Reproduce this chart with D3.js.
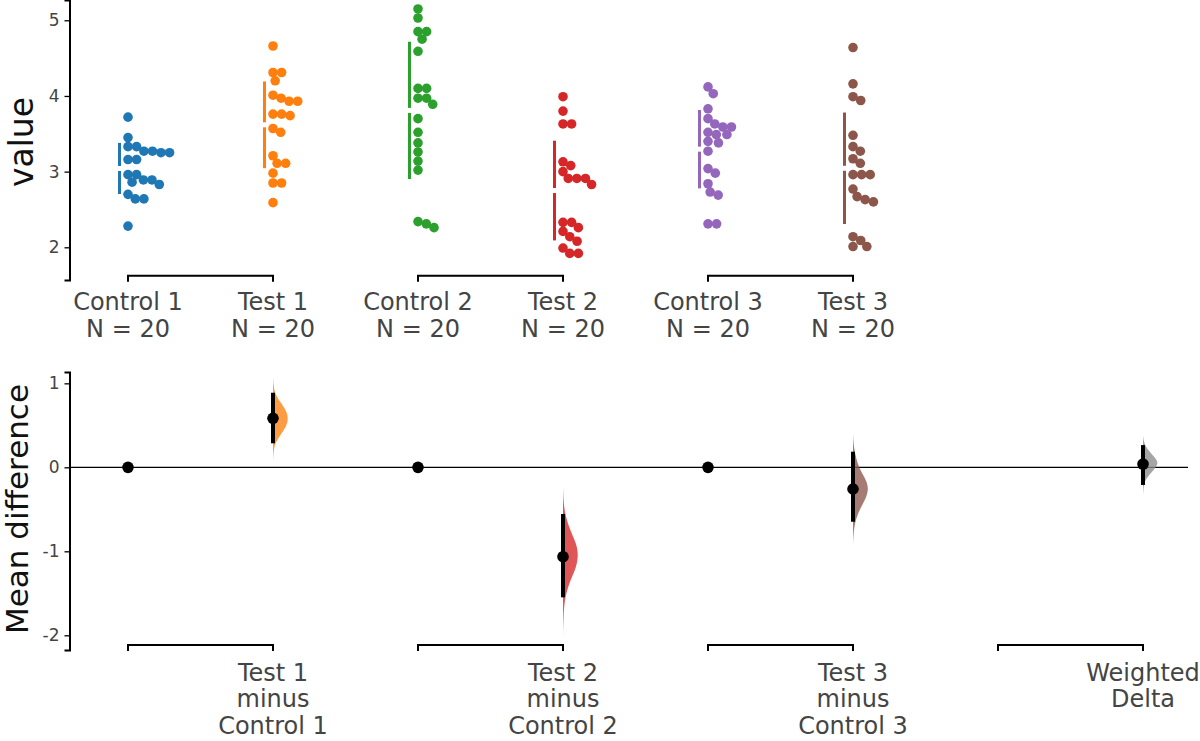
<!DOCTYPE html>
<html>
<head>
<meta charset="utf-8">
<script src="https://cdn.jsdelivr.net/npm/d3@7"></script>
<style>
  body { margin: 0; background: #fff; }
  text { font-family: "DejaVu Sans", sans-serif; }
</style>
</head>
<body>
<div id="main"></div>
<script>
// groups shown in the top (raw data) panel
const groups = ["Control 1", "Test 1", "Control 2", "Test 2", "Control 3", "Test 3"];
const groupColors = ["#1f77b4", "#ff7f0e", "#2ca02c", "#d62728", "#9467bd", "#8c564b"];

const control1 = [3.72, 3.45, 3.33, 3.33, 3.27, 3.27, 3.25, 3.25, 3.16, 3.16, 2.96, 2.96, 2.89, 2.89, 2.86, 2.83, 2.70, 2.64, 2.64, 2.28];
const test1    = [4.66, 4.31, 4.31, 4.20, 4.01, 3.97, 3.93, 3.93, 3.76, 3.76, 3.74, 3.57, 3.52, 3.21, 3.11, 3.11, 2.98, 2.85, 2.85, 2.59];
const control2 = [5.15, 5.03, 4.85, 4.85, 4.75, 4.59, 4.10, 4.10, 3.97, 3.97, 3.89, 3.70, 3.52, 3.38, 3.26, 3.14, 3.02, 2.34, 2.31, 2.26];
const test2    = [3.99, 3.80, 3.63, 3.63, 3.13, 3.08, 3.00, 2.91, 2.91, 2.91, 2.83, 2.33, 2.33, 2.26, 2.21, 2.14, 2.08, 1.99, 1.92, 1.92];
const control3 = [4.12, 4.03, 3.83, 3.70, 3.63, 3.59, 3.59, 3.52, 3.49, 3.49, 3.40, 3.38, 3.27, 3.04, 2.98, 2.84, 2.73, 2.69, 2.31, 2.31];
const test3    = [4.64, 4.16, 3.99, 3.94, 3.48, 3.33, 3.27, 3.17, 3.11, 2.96, 2.96, 2.96, 2.77, 2.67, 2.63, 2.60, 2.14, 2.09, 2.01, 2.01];
const groupValues = [control1, test1, control2, test2, control3, test3];

const topTicks = [2, 3, 4, 5];
const bottomTicks = [-2, -1, 0, 1];

// effect sizes (mean differences) with 95% CI
const deltaLabels = [["Test 1", "minus", "Control 1"], ["Test 2", "minus", "Control 2"], ["Test 3", "minus", "Control 3"], ["Weighted", "Delta"]];
const deltaMeans  = [0.583, -1.064, -0.258, 0.039];
const deltaCiLow  = [0.286, -1.548, -0.648, -0.21];
const deltaCiHigh = [0.888, -0.556, 0.186, 0.265];
const deltaColors = ["#ff7f0e", "#d62728", "#8c564b", "#8c8c8c"];

// bootstrap density outlines: [mean difference, relative width]
const densityT1 = [[1.08, 0], [0.98, 0.03], [0.88, 0.12], [0.78, 0.45], [0.68, 0.85], [0.58, 1], [0.48, 0.85], [0.38, 0.45], [0.28, 0.12], [0.18, 0.03], [0.07, 0]];
const densityT2 = [[-0.23, 0], [-0.40, 0.03], [-0.55, 0.12], [-0.75, 0.45], [-0.90, 0.85], [-1.04, 1], [-1.20, 0.85], [-1.35, 0.45], [-1.55, 0.12], [-1.75, 0.03], [-2.02, 0]];
const densityT3 = [[0.40, 0], [0.25, 0.04], [0.10, 0.2], [-0.05, 0.5], [-0.15, 0.85], [-0.25, 1], [-0.35, 0.88], [-0.48, 0.5], [-0.60, 0.2], [-0.75, 0.04], [-0.925, 0]];
const densityWd = [[0.38, 0], [0.30, 0.05], [0.22, 0.25], [0.14, 0.65], [0.067, 1], [0.0, 0.85], [-0.07, 0.5], [-0.15, 0.15], [-0.22, 0.04], [-0.33, 0]];
const densities = [densityT1, densityT2, densityT3, densityWd];

const width = 1200, height = 741;
const axisX = 69.5;

const svg = d3.select("#main").append("svg")
  .attr("width", width).attr("height", height);

// slot index -> x position (8 slots, shared by both panels)
const x = d3.scaleLinear().domain([0, 7]).range([128, 1143]);

const yTop = d3.scaleLinear().domain([1.568, 5.268]).range([280, 0]);
const yBot = d3.scaleLinear().domain([-2.175, 1.135]).range([650, 372]);

function drawAxis(scale, ticks) {
  const g = svg.append("g")
    .attr("transform", `translate(${axisX},0)`)
    .call(d3.axisLeft(scale).tickValues(ticks).tickSizeOuter(0).tickSize(5).tickPadding(5)
      .tickFormat(d => d < 0 ? "-" + Math.abs(d) : d));
  g.attr("font-size", 17).attr("font-family", "DejaVu Sans");
  g.select(".domain").attr("stroke", "#000").attr("stroke-width", 2);
  g.selectAll(".tick line").attr("stroke", "#000").attr("stroke-width", 1.3);
  g.selectAll(".tick text").attr("fill", "#444").style("font-size", "17px");
}
drawAxis(yTop, topTicks);
drawAxis(yBot, bottomTicks);

// axis titles
svg.append("text")
  .attr("transform", `translate(33,142) rotate(-90)`)
  .attr("text-anchor", "middle").attr("fill", "#111")
  .style("font-size", "33px").text("value");
svg.append("text")
  .attr("transform", `translate(28,509) rotate(-90)`)
  .attr("text-anchor", "middle").attr("fill", "#111")
  .style("font-size", "31px").text("Mean difference");

// one-sided swarm: each point goes to the smallest offset >= 0 that keeps
// it at least `sep` px from the points already placed
const r = 4.8;
const sep = 8.6;
function swarm(values, yScale) {
  const placed = [];
  const pts = values.map(v => ({ v, y: yScale(v) })).sort((a, b) => a.y - b.y);
  pts.forEach(p => {
    const near = placed.filter(q => Math.abs(q.y - p.y) < sep);
    const cands = [0];
    near.forEach(q => {
      const dx = Math.sqrt(sep * sep - (q.y - p.y) ** 2);
      cands.push(q.dx + dx);
      if (q.dx - dx >= 0) cands.push(q.dx - dx);
    });
    cands.sort((a, b) => a - b);
    for (const c of cands) {
      const ok = near.every(q => Math.hypot(q.dx - c, q.y - p.y) >= sep - 1e-6);
      if (ok) { p.dx = c; break; }
    }
    placed.push(p);
  });
  return placed;
}

groupValues.forEach((vals, i) => {
  const cx = x(i);
  const col = groupColors[i];
  const pts = swarm(vals, yTop);
  svg.append("g").selectAll("circle")
    .data(pts)
    .enter().append("circle")
      .attr("cx", d => cx + d.dx)
      .attr("cy", d => d.y)
      .attr("r", r)
      .attr("fill", col);

  // mean +/- sd gapped line
  const m = d3.mean(vals), sd = d3.deviation(vals);
  const lx = cx - 8.5, gap = 2.5;
  svg.append("line").attr("x1", lx).attr("x2", lx)
    .attr("y1", yTop(m + sd)).attr("y2", yTop(m) - gap)
    .attr("stroke", col).attr("stroke-width", 3);
  svg.append("line").attr("x1", lx).attr("x2", lx)
    .attr("y1", yTop(m) + gap).attr("y2", yTop(m - sd))
    .attr("stroke", col).attr("stroke-width", 3);

  // x labels
  const t = svg.append("text").attr("text-anchor", "middle").attr("fill", "#444")
    .style("font-size", "24px");
  t.append("tspan").attr("x", cx).attr("y", 310).text(groups[i]);
  t.append("tspan").attr("x", cx).attr("y", 337).text("N = " + vals.length);
});

// brackets
function bracket(i0, i1, yb) {
  svg.append("path")
    .attr("d", `M${x(i0)},${yb + 6}V${yb}H${x(i1)}V${yb + 6}`)
    .attr("fill", "none").attr("stroke", "#000").attr("stroke-width", 2);
}
[0, 2, 4].forEach(i => bracket(i, i + 1, 275.7));
[0, 2, 4, 6].forEach(i => bracket(i, i + 1, 645));

// zero line
svg.append("line").attr("x1", axisX).attr("x2", 1188)
  .attr("y1", yBot(0)).attr("y2", yBot(0))
  .attr("stroke", "#000").attr("stroke-width", 1.3);

// control reference points at zero
[0, 2, 4].forEach(i => {
  svg.append("circle").attr("cx", x(i)).attr("cy", yBot(0)).attr("r", 5.8).attr("fill", "#000");
});

// effect-size panel
const halfWidth = 15.5;
deltaMeans.forEach((m, k) => {
  const slot = 2 * k + 1;
  const cx = x(slot);
  const area = d3.area()
    .y(d => yBot(d[0]))
    .x0(cx)
    .x1(d => cx + d[1] * halfWidth)
    .curve(d3.curveBasis);
  svg.append("path").datum(densities[k])
    .attr("d", area)
    .attr("fill", deltaColors[k]).attr("fill-opacity", 0.78);
  svg.append("line").attr("x1", cx).attr("x2", cx)
    .attr("y1", yBot(deltaCiHigh[k])).attr("y2", yBot(deltaCiLow[k]))
    .attr("stroke", "#000").attr("stroke-width", 4);
  svg.append("circle").attr("cx", cx).attr("cy", yBot(m)).attr("r", 5.8).attr("fill", "#000");

  const t = svg.append("text").attr("text-anchor", "middle").attr("fill", "#444")
    .style("font-size", "24px");
  deltaLabels[k].forEach((s, j) => {
    t.append("tspan").attr("x", cx).attr("y", 680.5 + j * 26.5).text(s);
  });
});
</script>
</body>
</html>
